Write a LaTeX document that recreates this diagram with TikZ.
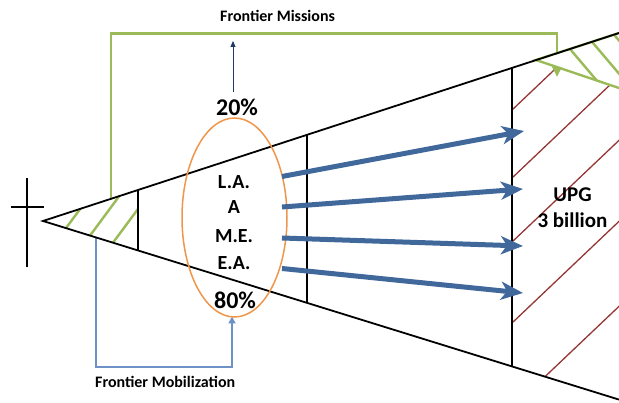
\documentclass[tikz,border=0pt]{standalone}
\usepackage{fontspec}
\setmainfont{Carlito}
\usetikzlibrary{arrows.meta,calc,shapes.geometric}
\definecolor{grn}{RGB}{155,187,89}
\definecolor{brn}{RGB}{148,54,52}
\definecolor{orng}{RGB}{240,150,75}
\definecolor{blu}{RGB}{65,104,155}
\definecolor{mblu}{RGB}{110,145,200}
\definecolor{navy}{RGB}{31,56,100}
\begin{document}
\begin{tikzpicture}[x=1pt,y=-1pt,
  edge/.style={line width=1.8pt,black},
  grnline/.style={line width=2.4pt,grn},
  hatchb/.style={line width=1.3pt,brn},
  bigarrow/.style={line width=5pt,blu,-{Stealth[length=22pt,width=18pt,inset=6pt]}},
  lbl/.style={font=\bfseries\fontsize{16}{18}\selectfont,inner sep=0pt},
  reg/.style={font=\bfseries\fontsize{20}{22}\selectfont,inner sep=0pt},
  pct/.style={font=\bfseries\fontsize{24}{26}\selectfont,inner sep=0pt},
  upg/.style={font=\bfseries\fontsize{21}{23}\selectfont,inner sep=0pt}]
\useasboundingbox (0,0) rectangle (619,403);
% triangle geometry
\coordinate (apex) at (43,221);
\coordinate (tR) at (619,33);
\coordinate (bR) at (619,399.6);
\coordinate (v1t) at (138,190);
\coordinate (v1b) at (138,250.5);
\coordinate (v2t) at (307,134.8);
\coordinate (v2b) at (307,302.8);
\coordinate (v3t) at (512,67.9);
\coordinate (v3b) at (512,366.4);
% brown hatch in right region
\begin{scope}
  \clip (v3t) -- (tR) -- (bR) -- (v3b) -- cycle;
  \foreach \yy in {110,178,242,323,408}{
    \coordinate (bh) at (512,\yy);
    \draw[hatchb] (bh) -- ($(bh)+(130,-123.5)$);
  }
\end{scope}
% green frontier missions frame
\coordinate (gf0) at (111,198.8);
\coordinate (gf1) at (111,33.5);
\coordinate (gf2) at (557,33.5);
\coordinate (gf3) at (557,77);
\draw[grnline,-{Triangle[length=10pt,width=9pt]}] (gf0) -- (gf1) -- (gf2) -- (gf3);
% green triangle
\coordinate (gt1) at (536,60);
\coordinate (gt2) at (619,33);
\coordinate (gt3) at (619,88);
\fill[white] (gt1) -- (gt2) -- (gt3) -- cycle;
\begin{scope}
  \clip (gt1) -- (gt2) -- (gt3) -- cycle;
  \foreach \xx/\yy in {570/49,592/41.8,614/34.6}{
    \coordinate (gh) at (\xx,\yy);
    \draw[grnline] ($(gh)+(-20,-23.6)$) -- ($(gh)+(40,47.2)$);
  }
\end{scope}
\draw[grnline,line join=miter] (gt2) -- (gt1) -- (gt3);
% green hatch in left region
\begin{scope}
  \clip (apex) -- (v1t) -- (v1b) -- cycle;
  \foreach \xx/\yy in {66/228.1,90/235.6,113/242.7}{
    \coordinate (lh) at (\xx,\yy);
    \draw[grnline] ($(lh)+(-20,27)$) -- ($(lh)+(40,-54)$);
  }
\end{scope}
% frontier mobilization connector
\coordinate (m0) at (95.7,237.3);
\coordinate (m1) at (95.7,367);
\coordinate (m2) at (232,367);
\coordinate (m3) at (232,316.5);
\draw[mblu,line width=2pt,-{Triangle[length=7pt,width=7pt]}] (m0) -- (m1) -- (m2) -- (m3);
% black triangle
\draw[edge] (tR) -- (apex) -- (bR);
\draw[edge] (v1t) -- (v1b);
\draw[edge] (v2t) -- (v2b);
\draw[edge] (v3t) -- (v3b);
% cross
\coordinate (c1) at (27,178);
\coordinate (c2) at (27,267);
\coordinate (c3) at (11,207);
\coordinate (c4) at (44,207);
\draw[edge] (c1) -- (c2);
\draw[edge] (c3) -- (c4);
% ellipse
\node[draw=orng,line width=1.5pt,ellipse,minimum width=105pt,minimum height=199pt,inner sep=0pt] (ell) at (234.5,217.5) {};
% texts
\node[pct] (p20) at (237,107.5) {20\%};
\node[pct] (p80) at (235,300.5) {80\%};
\node[reg] (la) at (234,182) {L.A.};
\node[reg] (aa) at (234,207.5) {A};
\node[reg] (me) at (234,236.3) {M.E.};
\node[reg] (ea) at (234,263.3) {E.A.};
\node[upg] (u1) at (572.5,194.5) {UPG};
\node[upg] (u2) at (572.5,220.5) {3 billion};
\node[lbl,anchor=base west] (fm) at (220,21.7) {Frontier Missions};
\node[lbl,anchor=base west] (fmob) at (95,387.7) {Frontier Mobilization};
% small navy arrow
\coordinate (na0) at (233,92);
\coordinate (na1) at (233,41);
\draw[navy,line width=0.9pt,-{Triangle[length=6pt,width=5pt]}] (na0) -- (na1);
% big arrows
\coordinate (s1) at (282,176.5);
\coordinate (s2) at (282,207);
\coordinate (s3) at (282,238);
\coordinate (s4) at (282,268.5);
\coordinate (e1) at (524,131);
\coordinate (e2) at (523,189);
\coordinate (e3) at (523,246);
\coordinate (e4) at (523,293);
\draw[bigarrow] (s1) -- (e1);
\draw[bigarrow] (s2) -- (e2);
\draw[bigarrow] (s3) -- (e3);
\draw[bigarrow] (s4) -- (e4);
\end{tikzpicture}
\end{document}
